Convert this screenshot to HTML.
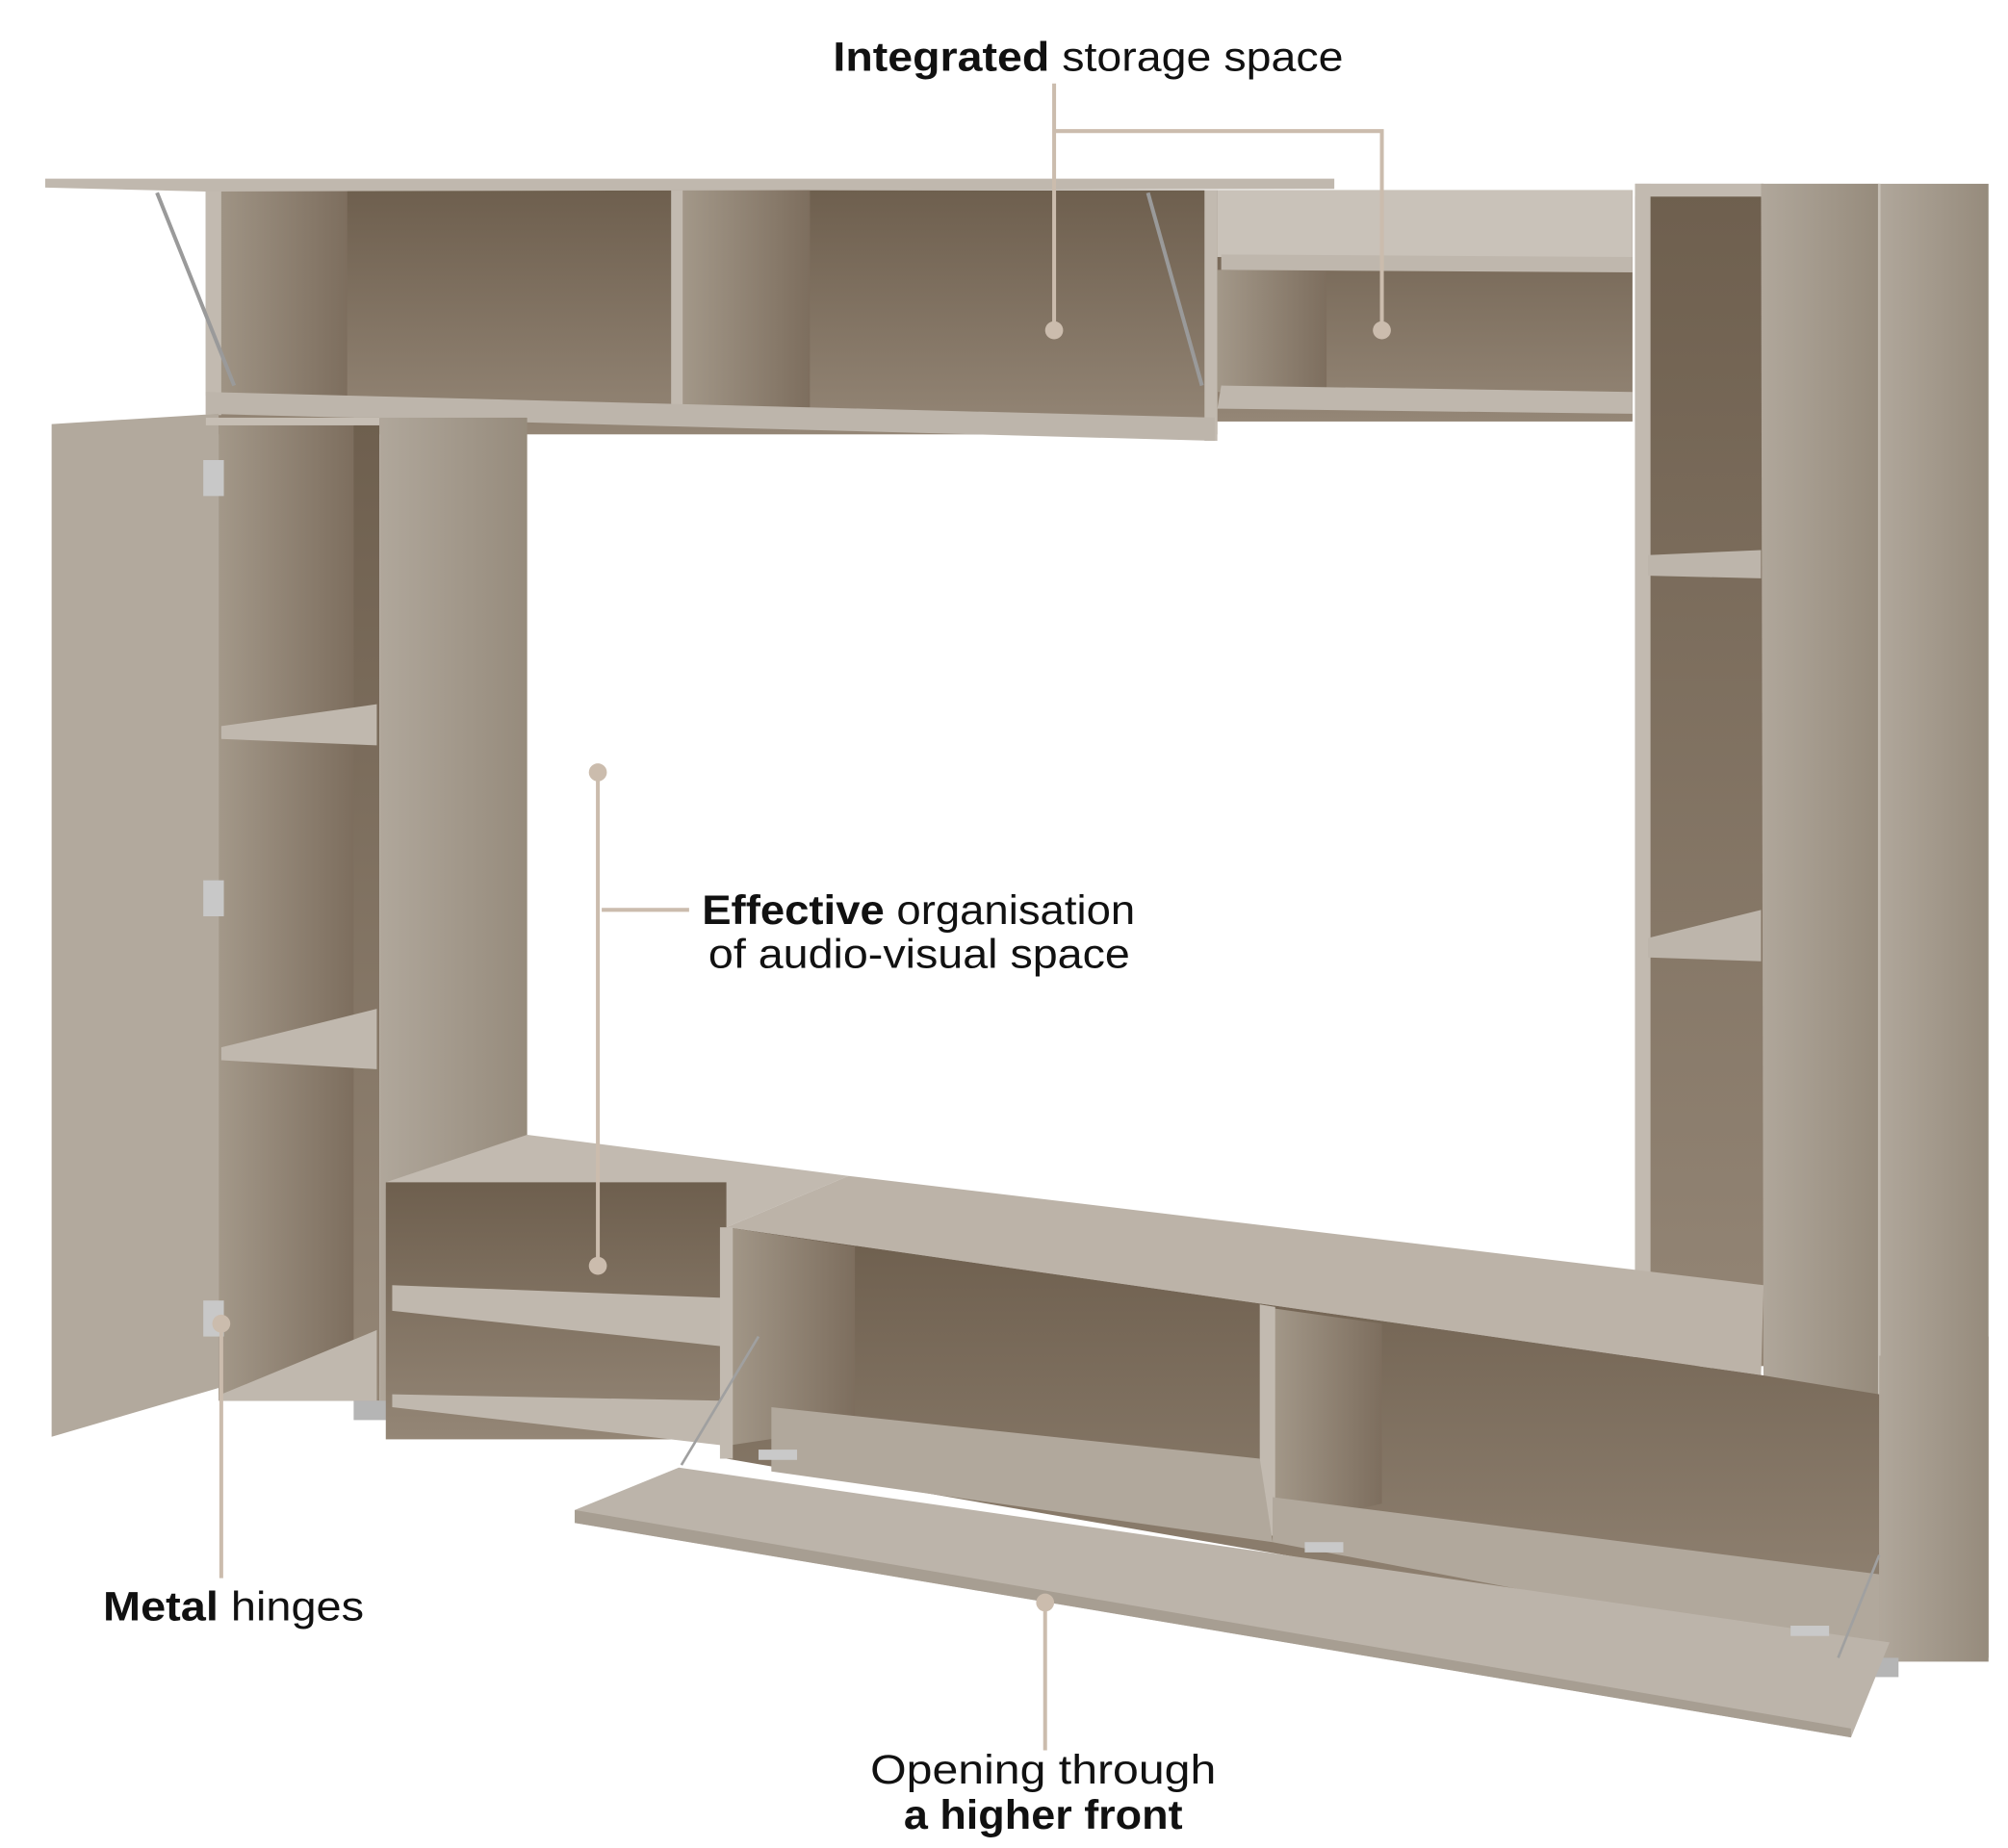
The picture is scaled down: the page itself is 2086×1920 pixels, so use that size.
<!DOCTYPE html>
<html><head><meta charset="utf-8"><style>
html,body{margin:0;padding:0;background:#fff}
svg{display:block}
text{font-family:"Liberation Sans",sans-serif;fill:#111}
</style></head><body>
<svg width="2086" height="1920" viewBox="0 0 1562 1438" xmlns="http://www.w3.org/2000/svg">
<defs>
<linearGradient id="back" x1="0" y1="0" x2="0" y2="1"><stop offset="0" stop-color="#6e5f4e"/><stop offset="1" stop-color="#948676"/></linearGradient>
<linearGradient id="side" x1="0" y1="0" x2="1" y2="0"><stop offset="0" stop-color="#a39889"/><stop offset="1" stop-color="#7d6e5e"/></linearGradient>
<linearGradient id="panel" x1="0" y1="0" x2="1" y2="0"><stop offset="0" stop-color="#b0a79b"/><stop offset="1" stop-color="#968b7c"/></linearGradient>
</defs>
<!-- top unit -->
<rect x="160" y="148" width="787" height="190" fill="url(#back)"/>
<rect x="160" y="148" width="110" height="160" fill="url(#side)"/>
<rect x="530" y="148" width="100" height="170" fill="url(#side)"/>
<rect x="160" y="148" width="12" height="175" fill="#c2bab0"/>
<rect x="522" y="148" width="9" height="175" fill="#c2bab0"/>
<rect x="937" y="148" width="10" height="195" fill="#c2bab0"/>
<polygon points="160,305 945,325 945,343 160,322" fill="#bdb5ab"/>
<polygon points="35,139 1038,139 1038,147 160,149 35,146" fill="#c0b8ae"/>
<line x1="122" y1="150" x2="182" y2="300" stroke="#9a9a9a" stroke-width="3"/>
<line x1="893" y1="150" x2="935" y2="300" stroke="#9a9a9a" stroke-width="3"/>
<!-- right top unit -->
<rect x="947" y="148" width="323" height="180" fill="url(#back)"/>
<rect x="947" y="148" width="323" height="52" fill="#c9c2b9"/>
<rect x="947" y="210" width="85" height="95" fill="url(#side)"/>
<polygon points="950,198 1270,200 1270,212 950,210" fill="#bfb7ad"/>
<polygon points="950,300 1270,305 1270,322 947,318" fill="#bfb7ad"/>
<!-- right tower -->
<rect x="1272" y="143" width="100" height="920" fill="url(#back)"/>
<rect x="1272" y="143" width="12" height="900" fill="#c2bab0"/>
<rect x="1272" y="143" width="100" height="10" fill="#c2bab0"/>
<polygon points="1282,432 1370,428 1370,450 1282,448" fill="#bdb5ab"/>
<polygon points="1282,730 1370,708 1370,748 1282,745" fill="#bdb5ab"/>
<polygon points="1282,1040 1370,1000 1370,1062 1282,1045" fill="#bdb5ab"/>
<polygon points="1370,143 1462,143 1462,1085 1372,1120" fill="url(#panel)"/>
<rect x="1462" y="143" width="85" height="1150" fill="url(#panel)"/>
<line x1="1462" y1="143" x2="1462" y2="1290" stroke="#c8c1b7" stroke-width="2"/>
<!-- left tower -->
<rect x="170" y="325" width="125" height="765" fill="url(#back)"/>
<rect x="170" y="325" width="105" height="760" fill="url(#side)"/>
<polygon points="172,565 293,548 293,580 172,575" fill="#c0b8ae"/>
<polygon points="172,815 293,785 293,832 172,825" fill="#c0b8ae"/>
<polygon points="172,1085 293,1035 293,1090 172,1090" fill="#c0b8ae"/>
<rect x="295" y="325" width="115" height="775" fill="url(#panel)"/>
<polygon points="40,330 170,322 170,1080 40,1118" fill="#b2a99d"/>
<rect x="275" y="1090" width="35" height="15" fill="#b5b5b5"/>
<rect x="160" y="325" width="135" height="6" fill="#c6beb4"/>
<!-- bottom left unit -->
<polygon points="300,920 410,883 660,915 565,955 300,925" fill="#c2bab0"/>
<rect x="300" y="920" width="265" height="200" fill="url(#back)"/>
<polygon points="305,1000 565,1010 565,1048 305,1020" fill="#c0b8ae"/>
<polygon points="305,1085 565,1090 565,1125 305,1095" fill="#c0b8ae"/>
<!-- bottom main -->
<polygon points="565,955 660,915 1372,1000 1370,1070" fill="#bcb3a8"/>
<polygon points="565,955 1370,1070 1462,1085 1462,1290 565,1135" fill="url(#back)"/>
<polygon points="565,955 665,970 665,1110 565,1125" fill="url(#side)"/>
<polygon points="990,1018 1075,1030 1075,1170 990,1190" fill="url(#side)"/>
<polygon points="980,1015 992,1017 992,1195 980,1195" fill="#c2bab0"/>
<polygon points="560,955 570,955 570,1135 560,1135" fill="#c2bab0"/>
<polygon points="600,1095 980,1135 990,1200 600,1145" fill="#b1a89c"/>
<polygon points="990,1165 1462,1225 1462,1290 990,1200" fill="#b1a89c"/>
<polygon points="1462,1055 1547,1040 1547,1290 1462,1290" fill="url(#panel)"/>
<rect x="1452" y="1290" width="25" height="15" fill="#b5b5b5"/>
<!-- flap -->
<polygon points="447,1175 528,1142 1470,1278 1440,1352 447,1185" fill="#bcb4aa"/>
<polygon points="447,1175 1440,1345 1440,1352 447,1185" fill="#a79e92"/>
<line x1="530" y1="1140" x2="590" y2="1040" stroke="#a0a0a0" stroke-width="2"/>
<line x1="1430" y1="1290" x2="1462" y2="1210" stroke="#a0a0a0" stroke-width="2"/>
<rect x="590" y="1128" width="30" height="8" fill="#c9c9c9"/>
<rect x="1015" y="1200" width="30" height="8" fill="#c9c9c9"/>
<rect x="1393" y="1265" width="30" height="8" fill="#c9c9c9"/>
<!-- hinges -->
<rect x="158" y="358" width="16" height="28" fill="#c8c8c8"/>
<rect x="158" y="685" width="16" height="28" fill="#c8c8c8"/>
<rect x="158" y="1012" width="16" height="28" fill="#c8c8c8"/>
<!-- callouts -->
<g stroke="#cbbcad" stroke-width="3" fill="none">
<polyline points="820,65 820,257"/>
<polyline points="820,102 1075,102 1075,257"/>
<polyline points="465,601 465,985"/>
<polyline points="468,708 536,708"/>
<polyline points="172,1030 172,1228"/>
<polyline points="813,1247 813,1362"/>
</g>
<g fill="#cbbcad">
<circle cx="820" cy="257" r="7"/><circle cx="1075" cy="257" r="7"/>
<circle cx="465" cy="601" r="7"/><circle cx="465" cy="985" r="7"/>
<circle cx="172" cy="1030" r="7"/><circle cx="813" cy="1247" r="7"/>
</g>
<text x="648" y="55" font-size="32" textLength="397" lengthAdjust="spacingAndGlyphs"><tspan font-weight="bold">Integrated</tspan> storage space</text>
<text x="546" y="719" font-size="32" textLength="337" lengthAdjust="spacingAndGlyphs"><tspan font-weight="bold">Effective</tspan> organisation</text>
<text x="551" y="753" font-size="32" textLength="328" lengthAdjust="spacingAndGlyphs">of audio-visual space</text>
<text x="80" y="1261" font-size="32" textLength="203" lengthAdjust="spacingAndGlyphs"><tspan font-weight="bold">Metal</tspan> hinges</text>
<text x="677" y="1388" font-size="32" textLength="269" lengthAdjust="spacingAndGlyphs">Opening through</text>
<text x="703" y="1423" font-size="32" font-weight="bold" textLength="217" lengthAdjust="spacingAndGlyphs">a higher front</text>
</svg>
</body></html>
